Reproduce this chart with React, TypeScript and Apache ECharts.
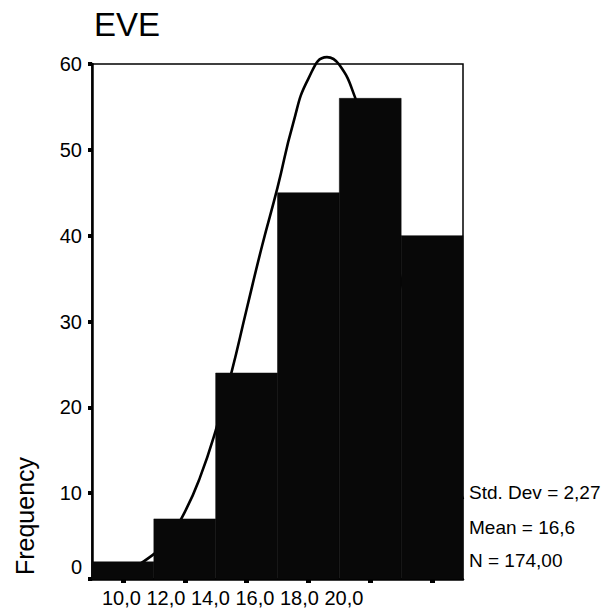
import React, { useEffect, useRef } from "react";
import * as echarts from "echarts";

const titleText = "EVE";
const yAxisTitle = "Frequency";
const binEdges = [9, 11, 13, 15, 17, 19, 21];
const counts = [2, 7, 24, 45, 56, 40];
const curveX = [9, 10, 11, 11.5, 12, 12.5, 13, 13.5, 14, 14.5, 15, 15.5, 16, 16.6, 17, 17.5, 18, 18.5, 19, 20, 21];
const curveY = [0.2, 0.9, 2.9, 4.9, 7.8, 11.9, 17.3, 23.9, 31.4, 38.8, 45.6, 53.0, 58.3, 60.8, 59.9, 56.2, 50.3, 42.8, 34.8, 19.8, 9.3];
const xTickValues = [10, 12, 14, 16, 18, 20];
const xTickLabels = ["10,0", "12,0", "14,0", "16,0", "18,0", "20,0"];
const yTickValues = [0, 10, 20, 30, 40, 50, 60];
const statsLines = ["Std. Dev = 2,27", "Mean = 16,6", "N = 174,00"];

const FONT = '"Liberation Sans", Arial, Helvetica, sans-serif';

export default function App() {
  const ref = useRef<HTMLDivElement>(null);
  useEffect(() => {
    if (!ref.current) return;
    const chart = echarts.init(ref.current, undefined, { renderer: "svg" });
    const barData = counts.map((c, i) => [binEdges[i], binEdges[i + 1], c]);
    const curveData = curveX.map((x, i) => [x, curveY[i]]);
    const option: any = {
      animation: false,
      backgroundColor: "#ffffff",
      grid: {
        left: 92,
        right: 147,
        top: 64,
        bottom: 34,
        show: true,
        borderColor: "#000",
        borderWidth: 1.5,
        backgroundColor: "transparent",
      },
      xAxis: {
        type: "value",
        min: binEdges[0],
        max: binEdges[binEdges.length - 1],
        axisLine: { show: true, lineStyle: { color: "#000", width: 2.5 } },
        axisTick: {
          show: true,
          customValues: xTickValues,
          length: 4,
          lineStyle: { color: "#000", width: 5 },
        },
        axisLabel: { show: false },
        splitLine: { show: false },
      },
      yAxis: {
        type: "value",
        min: 0,
        max: 60,
        interval: 10,
        axisLine: { show: true, lineStyle: { color: "#000", width: 2.5 } },
        axisTick: { show: true, length: 4, lineStyle: { color: "#000", width: 4 } },
        axisLabel: {
          show: true,
          margin: 10,
          color: "#000",
          fontSize: 20,
          fontFamily: FONT,
          formatter: (v: number) => (v === yTickValues[0] ? "{z|" + v + "}" : String(v)),
          rich: {
            z: { fontSize: 20, fontFamily: FONT, color: "#000", padding: [0, 0, 24, 0] },
          },
        },
        splitLine: { show: false },
      },
      series: [
        {
          type: "line",
          data: curveData,
          smooth: true,
          showSymbol: false,
          symbol: "none",
          clip: false,
          lineStyle: { color: "#000", width: 2.6 },
          z: 1,
        },
        {
          type: "custom",
          data: barData,
          encode: { x: [0, 1], y: 2 },
          renderItem: (params: any, api: any) => {
            const x0 = api.value(0);
            const x1 = api.value(1);
            const y = api.value(2);
            const p0 = api.coord([x0, y]);
            const p1 = api.coord([x1, 0]);
            return {
              type: "rect",
              shape: { x: p0[0], y: p0[1], width: p1[0] - p0[0], height: p1[1] - p0[1] },
              style: { fill: "#080808", stroke: "#080808", lineWidth: 0.5 },
            };
          },
          z: 2,
        },
      ],
      graphic: [
        {
          type: "text",
          left: 94,
          top: 8,
          style: { text: titleText, fontSize: 33, fontFamily: FONT, fill: "#000" },
        },
        {
          type: "text",
          x: 25,
          y: 516,
          rotation: Math.PI / 2,
          style: {
            text: yAxisTitle,
            fontSize: 25,
            fontFamily: FONT,
            fill: "#000",
            align: "center",
            verticalAlign: "middle",
          },
        },
        {
          type: "text",
          x: 102,
          y: 598,
          style: {
            text: xTickLabels.join(" "),
            fontSize: 20,
            fontFamily: FONT,
            fill: "#000",
            align: "left",
            verticalAlign: "middle",
          },
        },
        ...statsLines.map((s, i) => ({
          type: "text",
          x: 469,
          y: [492, 527, 560][i],
          style: {
            text: s,
            fontSize: 19,
            fontFamily: FONT,
            fill: "#000",
            align: "left",
            verticalAlign: "middle",
          },
        })),
      ],
    };
    chart.setOption(option);
    return () => chart.dispose();
  }, []);
  return (
    <div
      ref={ref}
      style={{ position: "fixed", left: 0, top: 0, width: 610, height: 613, background: "#fff" }}
    />
  );
}
